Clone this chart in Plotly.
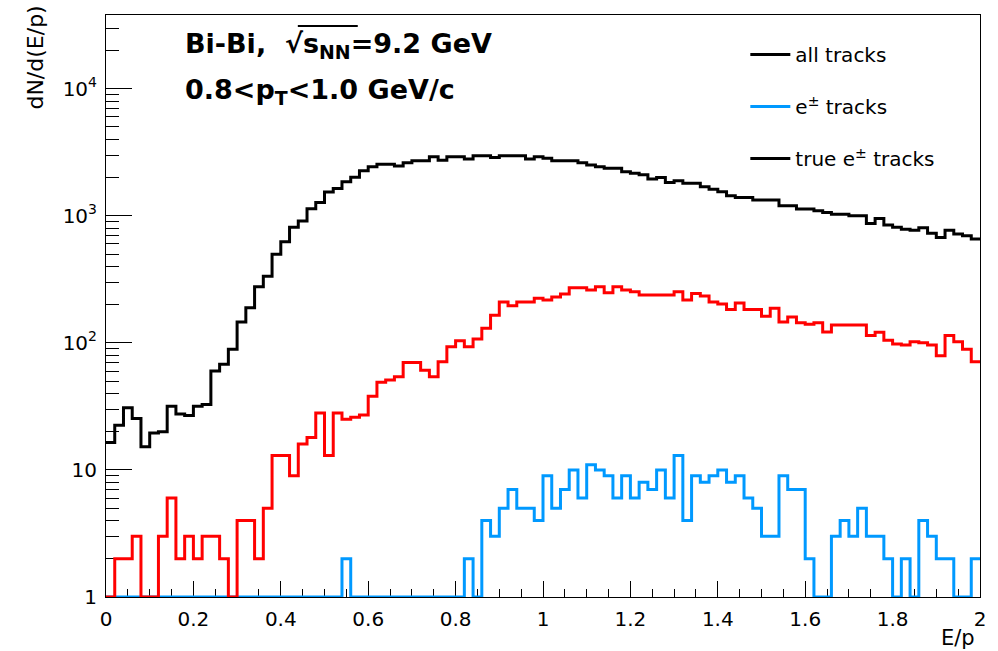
import numpy as np
import plotly.graph_objects as go

# binning: 100 bins on E/p in [0, 2]
bin_edges = np.linspace(0.0, 2.0, 101)

all_tracks = [16.4, 22.5, 30.8, 25.4, 15.2, 19.5, 20, 31.7, 27.5, 26.8,
              31.7, 32.7, 60, 68, 89, 146, 189, 276, 335, 499,
              624, 811, 908, 1135, 1274, 1537, 1640, 1850, 2006, 2262,
              2430, 2540, 2540, 2470, 2614, 2711, 2711, 2915, 2740, 2915,
              2915, 2795, 2966, 2966, 2880, 2966, 2966, 2966, 2795, 2915,
              2830, 2711, 2711, 2711, 2614, 2510, 2430, 2361, 2361, 2220,
              2157, 2100, 1950, 2000, 1830, 1890, 1800, 1800, 1690, 1620,
              1545, 1436, 1394, 1394, 1329, 1329, 1329, 1199, 1199, 1129,
              1129, 1094, 1062, 1030, 1030, 1000, 1000, 871, 953, 845,
              811, 785, 771, 805, 727, 676, 771, 718, 696, 656]

red_tracks = [1, 2, 2, 3, 1, 1, 3, 6, 2, 3,
              2, 3, 3, 2, 1, 4, 4, 2, 5, 13,
              13, 9, 16, 18, 28, 13, 28, 25, 26, 27,
              38, 49, 51, 54, 70, 70, 61, 54, 71, 93,
              104, 93, 107, 130, 165, 210, 196, 210, 210, 224,
              217, 230, 242, 271, 271, 260, 276, 248, 276, 260,
              252, 238, 238, 238, 238, 252, 217, 245, 234, 210,
              202, 183, 206, 183, 183, 162, 187, 146, 160, 144,
              140, 144, 122, 138, 138, 138, 138, 114, 121, 105,
              98, 96, 102, 100, 96, 79, 114, 102, 89, 71]

blue_tracks = [1, 1, 1, 1, 1, 1, 1, 1, 1, 1,
               1, 1, 1, 1, 1, 1, 1, 1, 1, 1,
               1, 1, 1, 1, 1, 1, 1, 2, 1, 1,
               1, 1, 1, 1, 1, 1, 1, 1, 1, 1,
               1, 2, 1, 4, 3, 5, 7, 5, 5, 4,
               9, 5, 7, 10, 6, 11, 10, 9, 6, 9,
               6, 8, 7, 10, 6, 13, 4, 9, 8, 9,
               10, 8, 9, 6, 5, 3, 3, 9, 7, 7,
               2, 1, 1, 3, 4, 3, 5, 3, 3, 2,
               1, 2, 1, 4, 3, 2, 2, 1, 1, 2]

x_tick_vals = [0, 0.2, 0.4, 0.6, 0.8, 1, 1.2, 1.4, 1.6, 1.8, 2]
x_tick_text = ["0", "0.2", "0.4", "0.6", "0.8", "1", "1.2", "1.4", "1.6", "1.8", "2"]
y_tick_vals = [1, 10, 100, 1000, 10000]
y_tick_text = ["1", "10", "10<sup>2</sup>", "10<sup>3</sup>", "10<sup>4</sup>"]

FONT = "DejaVu Sans, Liberation Sans, Arial, sans-serif"


def step_xy(vals):
    xs = list(bin_edges)
    ys = list(vals) + [vals[-1]]
    return xs, ys


fig = go.Figure()

traces = [
    (all_tracks, "#000000", "all tracks", True, "g1"),
    (blue_tracks, "#0099ff", "e<sup>\u00b1</sup> tracks", True, "g2"),
    (red_tracks, "#ff0000", "true e<sup>\u00b1</sup> tracks", False, "g3"),
]
for vals, color, name, show, grp in traces:
    xs, ys = step_xy(vals)
    fig.add_trace(go.Scatter(x=xs, y=ys, mode="lines", line_shape="hv",
                             line=dict(color=color, width=3), name=name,
                             showlegend=show, legendgroup=grp,
                             cliponaxis=False, hoverinfo="skip"))

# legend entry as shown in the reference (black line)
fig.add_trace(go.Scatter(x=[None], y=[None], mode="lines",
                         line=dict(color="#000000", width=3),
                         name="true e<sup>\u00b1</sup> tracks",
                         legendgroup="g3", showlegend=True))

minor_y = [m * 10 ** k for k in range(0, 5) for m in range(2, 10)]

fig.update_layout(
    width=998, height=651,
    margin=dict(l=106, r=18, t=15, b=54, pad=0),
    paper_bgcolor="white", plot_bgcolor="white",
    font=dict(family=FONT, size=20, color="black"),
    showlegend=True,
    legend=dict(x=0.7315, y=0.9656, xanchor="left", yanchor="top",
                bgcolor="rgba(0,0,0,0)", font=dict(size=20, family=FONT),
                tracegroupgap=23, traceorder="grouped", itemwidth=40),
    xaxis=dict(range=[0, 2], showgrid=False, zeroline=False,
               showline=True, linecolor="black", linewidth=1, mirror=True,
               ticks="inside", ticklen=16, tickwidth=1, tickcolor="black",
               tickmode="array", tickvals=x_tick_vals, ticktext=x_tick_text,
               ticklabelstandoff=4, tickfont=dict(size=20),
               minor=dict(ticks="inside", ticklen=8, tickwidth=1, tickcolor="black",
                          dtick=0.05, showgrid=False),
               layer="below traces"),
    yaxis=dict(type="log", range=[0, 4.58], showgrid=False, zeroline=False,
               showline=True, linecolor="black", linewidth=1, mirror=True,
               ticks="inside", ticklen=26, tickwidth=1, tickcolor="black",
               tickmode="array", tickvals=y_tick_vals, ticktext=y_tick_text,
               ticklabelstandoff=4, tickfont=dict(size=20),
               minor=dict(ticks="inside", ticklen=13, tickwidth=1, tickcolor="black",
                          tickmode="array", tickvals=minor_y, showgrid=False),
               layer="below traces"),
)

annotations = [
    dict(text="<b>Bi-Bi,  \u221as<sub>NN</sub>=9.2 GeV</b>",
         xref="paper", yref="paper", x=0.088, y=0.948, xanchor="left", yanchor="middle",
         showarrow=False, font=dict(size=27, family=FONT)),
    dict(text="<b>0.8<p<sub>T</sub><1.0 GeV/c</b>",
         xref="paper", yref="paper", x=0.088, y=0.868, xanchor="left", yanchor="middle",
         showarrow=False, font=dict(size=27, family=FONT)),
    dict(text="E/p", xref="paper", yref="paper", x=0.997, y=-0.071,
         xanchor="right", yanchor="middle", showarrow=False, font=dict(size=21, family=FONT)),
    dict(text="dN/d(E/p)", xref="paper", yref="paper", x=-0.081, y=1.02,
         xanchor="center", yanchor="top", textangle=-90, showarrow=False,
         font=dict(size=22, family=FONT)),
]
fig.update_layout(annotations=annotations)

# overline of the square root sign
fig.add_shape(type="line", xref="paper", yref="paper",
              x0=(298 - 106) / 874.8, x1=(358 - 106) / 874.8,
              y0=(596.7 - 26) / 581.7, y1=(596.7 - 26) / 581.7,
              line=dict(color="black", width=2))

fig.write_html("out.html")
